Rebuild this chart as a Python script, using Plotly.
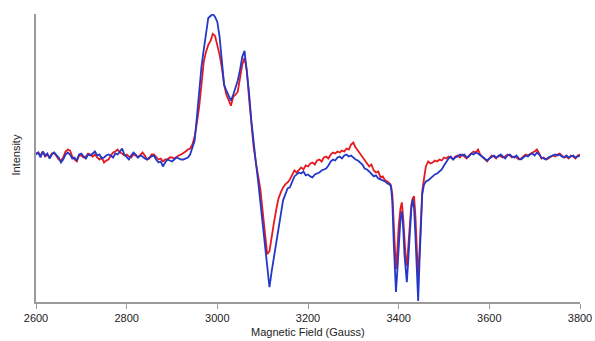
import plotly.graph_objects as go

# ---------------- data (intensity in arbitrary units, baseline ~ 0) ----------------
# Segment A: 2600 ... 3375 G, step 5 G
field_a = list(range(2600, 3380, 5))
# Segment T: hyperfine triplet region, irregular sampling
field_t = [3380, 3383, 3386, 3389, 3391, 3394, 3397, 3400, 3404, 3407, 3410, 3413, 3416, 3418,
           3421, 3424, 3428, 3431, 3434, 3437, 3440, 3443, 3446, 3449, 3452, 3456, 3460, 3465, 3470]
# Segment E: 3475 ... 3800 G, step 5 G
field_e = list(range(3475, 3805, 5))

blue_a = [
    # 2600-2695
    2, 4, -1, 5, 1, 3, -2, 2, 4, 1, -1, -6, -3, 2, 4, 2, -2, -1, -4, 2,
    # 2700-2795
    3, 0, -2, 2, 1, 3, 5, 1, 2, -2, -1, 1, 2, 1, -1, 3, 2, 5, 8, 2,
    # 2800-2895
    -1, -3, 1, 4, 2, -1, 1, 0, -2, -3, -1, 0, 1, -3, -6, -5, -10, -6, -3, -4,
    # 2900-2995
    -5, -3, -1, -2, -3, -3, -2, -1, 2, 10, 16, 40, 68, 90, 107, 122, 139, 141, 143, 140,
    # 3000-3095
    135, 120, 97, 72, 66, 61, 56, 62, 68, 76, 87, 100, 106, 86, 64, 36, 12, -6, -25, -47,
    # 3100-3195
    -69, -90, -112, -131, -115, -100, -86, -71, -56, -44, -38, -32, -31, -25, -20, -18, -16, -17, -15, -19,
    # 3200-3375
    -18, -20, -21, -18, -17, -16, -14, -13, -12, -9, -5, -3, -4, -1, 0, -2, 1, 2, 0, 1,
    -1, -3, -4, -6, -8, -12, -13, -15, -18, -20, -19, -22, -23, -24, -25, -27,
]
red_a = [
    # 2600-2695
    3, 4, 1, 5, 0, 2, -1, 3, 4, 0, -3, -4, -1, 5, 7, 6, 0, -3, -5, 1,
    # 2700-2795
    1, -1, 0, 3, 2, 0, 2, -1, -3, -1, -6, -4, -3, 1, 4, 5, 7, 4, 3, 1,
    # 2800-2895
    2, 0, -1, 2, 1, -1, 2, 4, 1, -3, -2, 2, 2, 0, -3, -2, -5, -3, -3, -1,
    # 2900-2995
    -1, -2, 0, 1, 2, 4, 5, 7, 8, 12, 20, 34, 50, 72, 95, 105, 112, 116, 123, 121,
    # 3000-3095
    112, 102, 89, 72, 62, 56, 51, 60, 62, 65, 80, 92, 99, 87, 58, 32, 10, -6, -18, -33,
    # 3100-3195
    -55, -78, -98, -95, -79, -66, -53, -42, -36, -31, -28, -26, -23, -18, -14, -16, -13, -11, -13, -9,
    # 3200-3375
    -10, -7, -6, -8, -4, -3, -5, -1, 0, -2, 2, 4, 3, 5, 4, 6, 5, 8, 7, 12,
    14, 9, 6, 3, 0, -4, -7, -10, -8, -14, -16, -15, -21, -20, -24, -25,
]
blue_t = [-28, -30, -45, -85, -110, -136, -115, -88, -62, -55, -72, -100, -120, -126,
          -105, -78, -52, -43, -52, -80, -118, -145, -105, -65, -38, -28, -25, -24, -22]
red_t = [-27, -29, -38, -70, -90, -113, -95, -70, -52, -46, -62, -88, -105, -110,
         -92, -68, -48, -42, -40, -60, -95, -123, -95, -60, -35, -22, -10, -5, -7]
blue_e = [
    -20, -18, -17, -15, -13, -9, -5, -2, 0, -3, -1, 0, 2, 1, 2, -1, 0, 3, 2, 4, 3, 1, -1, -3, -4,
    -2, 0, 1, -1, 0, 2, 0, -2, 1, 2, 0, -1, 1, -2, -3, -1, 1, 0, 2, 3, 1, 4, 2, -1, -2,
    -3, -1, 0, 1, 2, 1, 2, 0, -1, 1, -1, 0, 1, -1, 0, 1,
]
red_e = [
    -6, -4, -5, -3, -4, -1, -2, 0, -1, -3, 0, 1, -1, 2, 0, -2, 1, 3, 5, 4, 7, 2, 0, -3, -5,
    -2, 1, 0, -2, 1, 0, -1, 0, 2, 1, -1, 0, -1, -3, -2, 0, 2, 1, 3, 4, 5, 7, 3, -2, -1,
    -3, -2, 0, 1, 0, 2, 3, 1, -1, 0, -2, 1, 0, -2, 1, 2,
]

x_ticks = [2600, 2800, 3000, 3200, 3400, 3600, 3800]

field = field_a + field_t + field_e
blue = blue_a + blue_t + blue_e
red = red_a + red_t + red_e
assert len(field_a) == len(blue_a) == len(red_a), (len(field_a), len(blue_a), len(red_a))
assert len(field_t) == len(blue_t) == len(red_t), (len(field_t), len(blue_t), len(red_t))
assert len(field_e) == len(blue_e) == len(red_e), (len(field_e), len(blue_e), len(red_e))

RED = "#E8191E"
BLUE = "#2338C8"
AXIS = "#9a9a9a"
FONT = "Liberation Sans, Arial, sans-serif"

fig = go.Figure()
fig.add_trace(go.Scatter(x=field, y=red, mode="lines",
                         line=dict(color=RED, width=1.8), showlegend=False, hoverinfo="skip"))
fig.add_trace(go.Scatter(x=field, y=blue, mode="lines",
                         line=dict(color=BLUE, width=1.8), showlegend=False, hoverinfo="skip"))

fig.update_layout(
    width=595, height=341,
    margin=dict(l=36, r=15, t=14, b=39, autoexpand=False),
    paper_bgcolor="white", plot_bgcolor="white",
    font=dict(family=FONT, size=11, color="#222222"),
    xaxis=dict(
        range=[2600, 3800], tickvals=x_ticks, ticktext=[str(v) for v in x_ticks],
        automargin=False,
        showgrid=False, zeroline=False, showline=True, linecolor=AXIS, linewidth=1.5,
        ticks="outside", ticklen=5, tickwidth=1.2, tickcolor=AXIS,
        tickfont=dict(family=FONT, size=11, color="#222222"),
    ),
    yaxis=dict(
        range=[-146, 143], showgrid=False, zeroline=False, showline=True, automargin=False,
        linecolor=AXIS, linewidth=1.5, showticklabels=False, ticks="",
    ),
    annotations=[
        dict(text="Intensity", xref="paper", yref="paper", x=-0.036, y=0.51,
             xanchor="center", yanchor="middle", textangle=-90, showarrow=False,
             font=dict(family=FONT, size=11, color="#222222")),
        dict(text="Magnetic Field (Gauss)", xref="paper", yref="paper", x=0.5, y=-0.0,
             xanchor="center", yanchor="middle", yshift=-30, showarrow=False,
             font=dict(family=FONT, size=11, color="#222222")),
    ],
)

fig.write_html("out.html")
